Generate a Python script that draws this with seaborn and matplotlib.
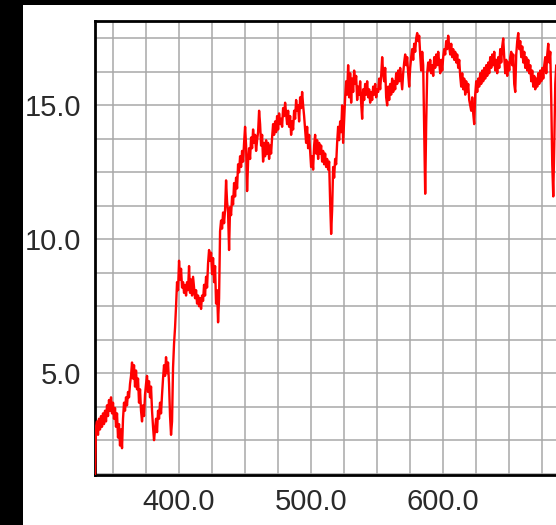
import numpy as np
import seaborn as sns
import matplotlib.pyplot as plt
from matplotlib.patches import Rectangle
from matplotlib.ticker import MultipleLocator, FormatStrFormatter

# spectrum, uniform wavelength grid
wl_start = 336.4
wl_step = 0.758
flux = [
    1.2, 3.0, 3.2, 2.7, 3.3, 2.9, 3.4, 3.0, 3.5, 3.1,
    3.6, 3.2, 3.8, 3.4, 4.0, 3.6, 4.1, 3.5, 3.9, 3.3,
    3.7, 3.0, 3.5, 2.6, 3.1, 2.3, 2.9, 2.2, 3.3, 3.9,
    3.6, 4.1, 3.8, 4.3, 4.1, 4.6, 4.9, 5.4, 4.8, 5.3,
    4.5, 5.1, 4.4, 4.8, 3.9, 4.4, 3.6, 3.2, 3.8, 3.4,
    4.2, 4.6, 4.9, 4.3, 4.7, 4.1, 4.5, 3.6, 3.0, 2.5,
    2.9, 3.3, 2.8, 3.6, 3.3, 3.9, 3.5, 4.2, 4.8, 5.3,
    4.9, 5.6, 5.0, 5.4, 4.6, 3.4, 2.7, 3.2, 5.2, 6.1,
    6.7, 7.5, 8.4, 8.1, 9.2, 8.5, 8.9, 8.2, 8.4, 8.0,
    8.3, 7.9, 8.4, 8.1, 9.0, 8.0, 8.5, 7.9, 8.6, 8.2,
    7.8, 8.1, 7.6, 7.9, 7.5, 7.8, 7.4, 7.9, 7.7, 8.3,
    7.9, 8.6, 8.2, 9.1, 9.6, 9.2, 9.5, 8.7, 9.3, 8.4,
    9.0, 7.6, 8.1, 6.9, 7.8, 10.3, 10.7, 10.4, 11.0, 10.6,
    11.1, 12.2, 11.4, 11.0, 9.6, 11.2, 10.9, 11.6, 11.3, 12.1,
    11.6, 12.3, 11.9, 12.8, 12.5, 13.1, 12.7, 13.3, 12.9, 13.6,
    14.2, 13.5, 11.8, 12.9, 13.4, 13.0, 13.8, 13.4, 14.1, 13.6,
    13.9, 13.3, 13.7, 14.0, 14.8, 14.3, 13.5, 13.9, 12.9, 13.6,
    13.1, 13.7, 13.2, 13.6, 13.0, 13.5, 13.2, 13.8, 14.3, 13.9,
    14.4, 14.0, 14.6, 14.1, 14.7, 14.3, 14.5, 14.2, 14.9, 14.6,
    15.1, 14.7, 14.3, 14.8, 14.2, 14.6, 13.9, 14.4, 14.1, 14.8,
    14.5, 15.2, 14.8, 15.0, 14.4, 15.3, 14.9, 15.5, 15.0, 14.6,
    14.1, 13.6, 14.2, 13.4, 13.9, 13.3, 12.7, 13.1, 12.6, 13.5,
    13.9, 13.2, 13.7, 13.0, 13.6, 13.2, 13.5, 12.9, 13.3, 12.8,
    13.2, 12.7, 13.0, 12.6, 12.9, 11.4, 10.2, 11.1, 12.7, 12.3,
    13.0, 12.8, 13.6, 14.2, 13.7, 14.4, 14.0, 15.0, 13.6, 14.5,
    15.3, 15.9, 15.4, 16.5, 15.3, 16.2, 15.1, 16.0, 15.5, 16.3,
    15.8, 16.1, 15.2, 15.7, 15.4, 15.9, 15.1, 14.5, 15.6, 15.2,
    15.8, 15.4, 15.9, 15.3, 15.6, 15.1, 15.5, 15.2, 15.7, 15.4,
    15.8, 15.3, 15.6, 15.5, 16.0, 15.6, 16.1, 16.8, 16.2, 15.9,
    16.4, 15.3, 15.0, 15.7, 15.2, 15.8, 15.4, 16.0, 15.5, 15.9,
    15.6, 16.2, 15.8, 16.3, 15.9, 16.4, 16.0, 15.6, 16.2, 16.6,
    16.9, 16.5, 16.8, 16.2, 15.7, 16.4, 16.8, 17.1, 16.7, 17.3,
    17.0, 17.5, 17.7, 17.4, 17.6, 16.9, 16.3, 17.0, 16.5, 14.0,
    11.7, 14.3, 16.2, 16.6, 16.3, 16.7, 16.2, 16.5, 16.1, 16.8,
    16.4, 16.9, 16.5, 17.0, 16.6, 16.2, 16.7, 16.3, 16.8, 17.1,
    16.9, 17.4, 17.1, 17.6, 17.2, 16.9, 17.3, 16.8, 17.1, 16.7,
    17.0, 16.6, 16.9, 16.4, 16.7, 16.1, 15.7, 16.2, 15.6, 16.0,
    15.4, 15.9, 15.5, 15.8, 15.2, 15.0, 14.8, 15.3, 14.7, 14.3,
    15.4, 15.9, 15.5, 16.0, 15.7, 16.2, 15.8, 16.3, 15.9, 16.4,
    16.0, 16.5, 16.1, 16.6, 16.2, 16.8, 16.4, 16.9, 16.5, 17.0,
    16.3, 16.7, 16.2, 16.8, 16.4, 17.1, 16.6, 17.2, 17.5, 16.8,
    16.2, 16.7, 16.1, 16.6, 16.3, 16.8, 17.0, 16.5, 16.9, 15.8,
    15.5, 16.9, 17.4, 17.7, 17.1, 17.4, 16.8, 17.2, 16.6, 17.0,
    16.4, 16.8, 16.3, 16.7, 16.2, 16.5, 15.9, 16.3, 15.7, 16.1,
    15.6, 16.0, 15.7, 16.2, 15.8, 16.3, 15.9, 16.4, 16.0, 16.5,
    16.8, 16.2, 16.9, 17.3, 16.6, 17.0, 15.2, 12.8, 11.6, 13.5,
    15.8, 16.5, 16.2, 16.6,
]
wavelength = wl_start + wl_step * np.arange(len(flux))

sns.set_style("white")
plt.rcParams['font.family'] = ['Liberation Sans', 'DejaVu Sans']

fig = plt.figure(figsize=(5.56, 5.25), dpi=100, facecolor='black')
# white canvas inside the black frame, kept under the axes
fig.patches.append(Rectangle((23 / 556, 0), 1, 520 / 525, transform=fig.transFigure,
                             facecolor='white', edgecolor='none', zorder=-5))

ax = fig.add_axes([95 / 556, 1 - 475 / 525, 475 / 556, 454 / 525])
ax.set_facecolor('white')

sns.lineplot(x=wavelength, y=flux, ax=ax, color='#ff0000', linewidth=1.7, zorder=3)

ax.set_xlim(336.4, 336.4 + 475 / 1.32)
ax.set_ylim(1.2, 18.15)

ax.xaxis.set_major_locator(MultipleLocator(100))
ax.xaxis.set_minor_locator(MultipleLocator(25))
ax.yaxis.set_major_locator(MultipleLocator(5))
ax.yaxis.set_minor_locator(MultipleLocator(1.25))
ax.xaxis.set_major_formatter(FormatStrFormatter('%.1f'))
ax.yaxis.set_major_formatter(FormatStrFormatter('%.1f'))

ax.grid(True, which='both', color='#a8a8a8', linewidth=1.1)
ax.set_axisbelow(True)

ax.tick_params(which='major', direction='in', length=16, width=1.2, color='black',
               labelsize=21, labelcolor='#2a2a2a')
ax.tick_params(which='minor', direction='in', length=7, width=1.2, color='black')
ax.tick_params(axis='y', which='major', pad=10)
ax.tick_params(axis='x', which='major', pad=9)

for side in ['left', 'bottom', 'top']:
    ax.spines[side].set_color('black')
    ax.spines[side].set_linewidth(2)
ax.spines['right'].set_visible(False)

fig.savefig('out.png', dpi=100, facecolor=fig.get_facecolor())
